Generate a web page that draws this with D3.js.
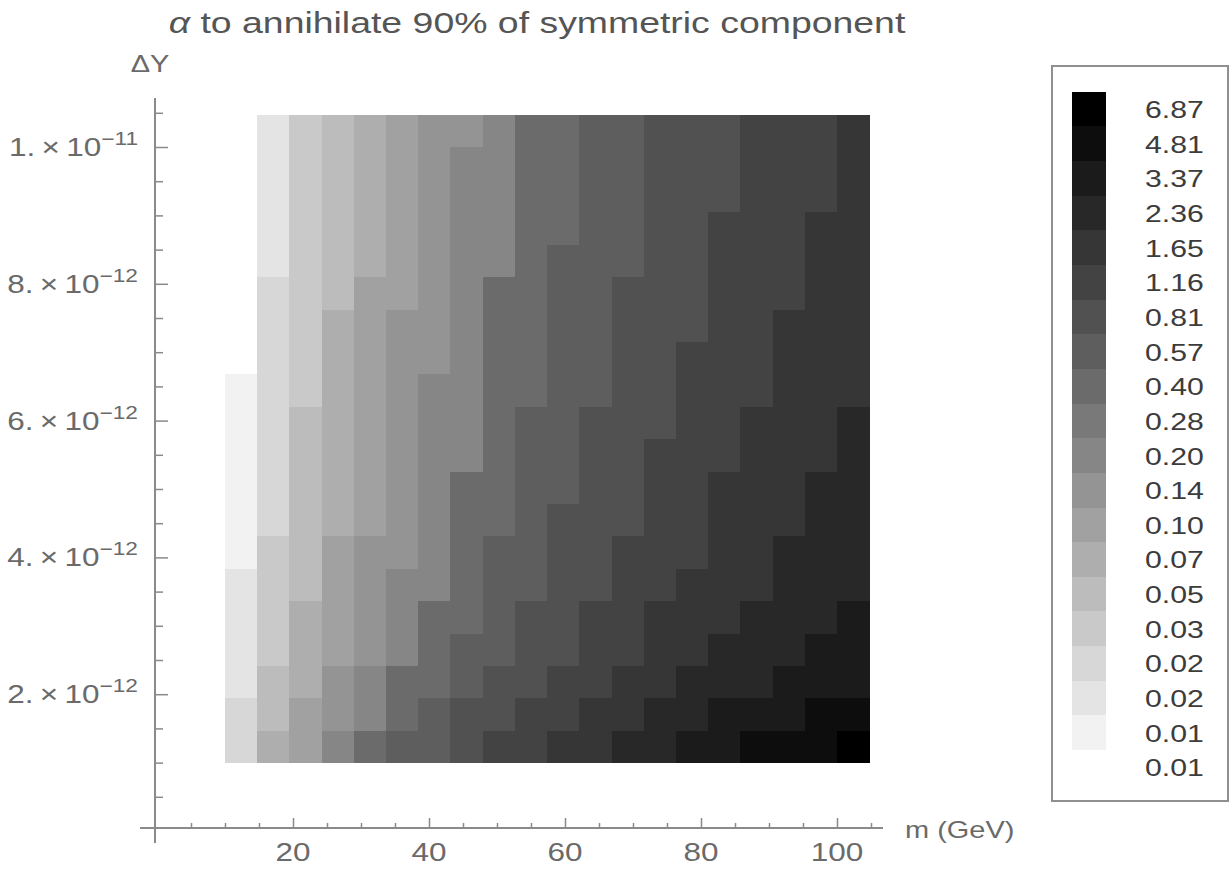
<!DOCTYPE html>
<html>
<head>
<meta charset="utf-8">
<script src="https://cdn.jsdelivr.net/npm/d3@7"></script>
<style>
    body { margin: 0; background: #ffffff; }
    text { font-family: "Liberation Sans", Arial, sans-serif; }
</style>
</head>
<body>
<div id="chart"></div>
<script>

//grid of the scan: dark matter mass and asymmetry
var massGeV = [10, 14.74, 19.47, 24.21, 28.95, 33.68, 38.42, 43.16, 47.89, 52.63,
               57.37, 62.11, 66.84, 71.58, 76.32, 81.05, 85.79, 90.53, 95.26, 100];
var deltaY = [1.00e-12, 1.47e-12, 1.95e-12, 2.42e-12, 2.89e-12, 3.37e-12, 3.84e-12, 4.32e-12, 4.79e-12, 5.26e-12,
              5.74e-12, 6.21e-12, 6.68e-12, 7.16e-12, 7.63e-12, 8.11e-12, 8.58e-12, 9.05e-12, 9.53e-12, 1.00e-11];

//legend levels (bottom to top)
var legendLevels = [0.0079, 0.0113, 0.0162, 0.0231, 0.0329, 0.0470, 0.0672, 0.0959, 0.1369, 0.1954,
                    0.2789, 0.3982, 0.5685, 0.8116, 1.159, 1.654, 2.361, 3.371, 4.812, 6.87];

//alpha, one row per deltaY (lowest first), one value per mass
var alphaRows = [
    [0.0231, 0.0672, 0.0959, 0.195, 0.398, 0.569, 0.569, 0.812, 1.16, 1.16, 1.65, 1.65, 2.36, 2.36, 3.37, 3.37, 4.81, 4.81, 4.81, 6.87],
    [0.0231, 0.047, 0.0959, 0.137, 0.195, 0.398, 0.569, 0.812, 0.812, 1.16, 1.16, 1.65, 1.65, 2.36, 2.36, 3.37, 3.37, 3.37, 4.81, 4.81],
    [0.0162, 0.047, 0.0672, 0.137, 0.195, 0.398, 0.398, 0.569, 0.812, 0.812, 1.16, 1.16, 1.65, 1.65, 2.36, 2.36, 2.36, 3.37, 3.37, 3.37],
    [0.0162, 0.0329, 0.0672, 0.0959, 0.137, 0.195, 0.398, 0.569, 0.569, 0.812, 0.812, 1.16, 1.16, 1.65, 1.65, 2.36, 2.36, 2.36, 3.37, 3.37],
    [0.0162, 0.0329, 0.0672, 0.0959, 0.137, 0.195, 0.398, 0.398, 0.569, 0.812, 0.812, 1.16, 1.16, 1.65, 1.65, 1.65, 2.36, 2.36, 2.36, 3.37],
    [0.0162, 0.0329, 0.047, 0.0959, 0.137, 0.195, 0.195, 0.398, 0.569, 0.569, 0.812, 0.812, 1.16, 1.16, 1.65, 1.65, 1.65, 2.36, 2.36, 2.36],
    [0.0113, 0.0329, 0.047, 0.0959, 0.137, 0.137, 0.195, 0.398, 0.569, 0.569, 0.812, 0.812, 1.16, 1.16, 1.16, 1.65, 1.65, 2.36, 2.36, 2.36],
    [0.0113, 0.0231, 0.047, 0.0672, 0.0959, 0.137, 0.195, 0.398, 0.398, 0.569, 0.812, 0.812, 0.812, 1.16, 1.16, 1.65, 1.65, 1.65, 2.36, 2.36],
    [0.0113, 0.0231, 0.047, 0.0672, 0.0959, 0.137, 0.195, 0.398, 0.398, 0.569, 0.569, 0.812, 0.812, 1.16, 1.16, 1.65, 1.65, 1.65, 2.36, 2.36],
    [0.0113, 0.0231, 0.047, 0.0672, 0.0959, 0.137, 0.195, 0.195, 0.398, 0.569, 0.569, 0.812, 0.812, 1.16, 1.16, 1.16, 1.65, 1.65, 1.65, 2.36],
    [0.0113, 0.0231, 0.047, 0.0672, 0.0959, 0.137, 0.195, 0.195, 0.398, 0.569, 0.569, 0.812, 0.812, 0.812, 1.16, 1.16, 1.65, 1.65, 1.65, 2.36],
    [0.0113, 0.0231, 0.0329, 0.0672, 0.0959, 0.137, 0.195, 0.195, 0.398, 0.398, 0.569, 0.569, 0.812, 0.812, 1.16, 1.16, 1.16, 1.65, 1.65, 1.65],
    [0.0079, 0.0231, 0.0329, 0.0672, 0.0959, 0.137, 0.137, 0.195, 0.398, 0.398, 0.569, 0.569, 0.812, 0.812, 1.16, 1.16, 1.16, 1.65, 1.65, 1.65],
    [0.0079, 0.0231, 0.0329, 0.0672, 0.0959, 0.137, 0.137, 0.195, 0.398, 0.398, 0.569, 0.569, 0.812, 0.812, 0.812, 1.16, 1.16, 1.65, 1.65, 1.65],
    [0.0079, 0.0231, 0.0329, 0.047, 0.0959, 0.0959, 0.137, 0.195, 0.398, 0.398, 0.569, 0.569, 0.812, 0.812, 0.812, 1.16, 1.16, 1.16, 1.65, 1.65],
    [0.0079, 0.0162, 0.0329, 0.047, 0.0672, 0.0959, 0.137, 0.195, 0.195, 0.398, 0.569, 0.569, 0.569, 0.812, 0.812, 1.16, 1.16, 1.16, 1.65, 1.65],
    [0.0079, 0.0162, 0.0329, 0.047, 0.0672, 0.0959, 0.137, 0.195, 0.195, 0.398, 0.398, 0.569, 0.569, 0.812, 0.812, 1.16, 1.16, 1.16, 1.65, 1.65],
    [0.0079, 0.0162, 0.0329, 0.047, 0.0672, 0.0959, 0.137, 0.195, 0.195, 0.398, 0.398, 0.569, 0.569, 0.812, 0.812, 0.812, 1.16, 1.16, 1.16, 1.65],
    [0.0079, 0.0162, 0.0329, 0.047, 0.0672, 0.0959, 0.137, 0.195, 0.195, 0.398, 0.398, 0.569, 0.569, 0.812, 0.812, 0.812, 1.16, 1.16, 1.16, 1.65],
    [0.0079, 0.0162, 0.0329, 0.047, 0.0672, 0.0959, 0.137, 0.137, 0.195, 0.398, 0.398, 0.569, 0.569, 0.812, 0.812, 0.812, 1.16, 1.16, 1.16, 1.65]
];

//axis ticks
var xMajorTicks = [20, 40, 60, 80, 100];
var xMinorTicks = [5, 10, 15, 25, 30, 35, 45, 50, 55, 65, 70, 75, 85, 90, 95, 105];
var yMajorTicks = [2e-12, 4e-12, 6e-12, 8e-12, 1e-11];
var yTickMantissa = ["2.", "4.", "6.", "8.", "1."];
var yTickExponent = ["\u221212", "\u221212", "\u221212", "\u221212", "\u221211"];
var yMinorTicks = [0.5e-12, 1e-12, 1.5e-12, 2.5e-12, 3e-12, 3.5e-12, 4.5e-12, 5e-12, 5.5e-12,
                   6.5e-12, 7e-12, 7.5e-12, 8.5e-12, 9e-12, 9.5e-12, 10.5e-12];

var width = 1232, height = 874;
var textStretch = 1.26;   //glyphs in the picture are wider than they are tall

var svg = d3.select("#chart").append("svg")
    .attr("width", width)
    .attr("height", height);

//define the scales
var x = d3.scaleLinear().domain([0, 100]).range([157, 837]);
var y = d3.scaleLinear().domain([0, 1e-11]).range([831, 147]);

var grays = legendLevels.map(function(d, k){
    return d3.interpolateRgb("#ffffff", "#000000")(k / (legendLevels.length - 1));
});
var thresholds = d3.pairs(legendLevels).map(function(p){ return Math.sqrt(p[0] * p[1]); });
var color = d3.scaleThreshold().domain(thresholds).range(grays);

//helper for horizontally stretched text
function stretchedText(parent, px, py, anchor, size, fill, sx){
    return parent.append("g")
        .attr("transform", "translate(" + px + "," + py + ") scale(" + (sx || textStretch) + ",1)")
        .append("text")
        .attr("text-anchor", anchor)
        .attr("font-size", size)
        .attr("fill", fill);
}

//cells
var cells = [];
alphaRows.forEach(function(row, j){
    row.forEach(function(v, i){
        var m1 = i < massGeV.length - 1 ? massGeV[i + 1] : massGeV[i] + (massGeV[i] - massGeV[i - 1]);
        var d1 = j < deltaY.length - 1 ? deltaY[j + 1] : deltaY[j] + (deltaY[j] - deltaY[j - 1]);
        cells.push({m0: massGeV[i], m1: m1, d0: deltaY[j], d1: d1, v: v});
    });
});

svg.append("g")
    .attr("class", "cells")
    .selectAll("rect")
    .data(cells)
    .enter().append("rect")
    .attr("x", function(d){ return x(d.m0); })
    .attr("y", function(d){ return y(d.d1); })
    .attr("width", function(d){ return x(d.m1) - x(d.m0) + 0.4; })
    .attr("height", function(d){ return y(d.d0) - y(d.d1) + 0.4; })
    .attr("fill", function(d){ return color(d.v); })
    .attr("shape-rendering", "crispEdges");

//axes
var axisColor = "#8a8a8a";
var xAxisY = 828, yAxisX = 155;

var xAxisG = svg.append("g").attr("transform", "translate(0," + xAxisY + ")");
xAxisG.append("g").call(d3.axisBottom(x).tickValues(xMajorTicks).tickSize(-10).tickFormat(""));
xAxisG.append("g").call(d3.axisBottom(x).tickValues(xMinorTicks).tickSize(-5).tickFormat(""));
xAxisG.selectAll(".domain").remove();
xAxisG.selectAll("line").attr("stroke", axisColor).attr("stroke-width", 1.5);
xAxisG.append("line")
    .attr("x1", 140).attr("x2", 883)
    .attr("stroke", axisColor).attr("stroke-width", 2);

var yAxisG = svg.append("g").attr("transform", "translate(" + yAxisX + ",0)");
yAxisG.append("g").call(d3.axisLeft(y).tickValues(yMajorTicks).tickSize(-13).tickFormat(""));
yAxisG.append("g").call(d3.axisLeft(y).tickValues(yMinorTicks).tickSize(-8).tickFormat(""));
yAxisG.selectAll(".domain").remove();
yAxisG.selectAll("line").attr("stroke", axisColor).attr("stroke-width", 1.5);
yAxisG.append("line")
    .attr("y1", 98).attr("y2", 843)
    .attr("stroke", axisColor).attr("stroke-width", 2);

//tick labels
var labelColor = "#6a6a6a";
xMajorTicks.forEach(function(t){
    stretchedText(svg, x(t), 861, "middle", 25, labelColor).text(t);
});

yMajorTicks.forEach(function(t, k){
    var label = stretchedText(svg, 138, y(t) + 9, "end", 25, labelColor);
    label.append("tspan").text(yTickMantissa[k] + "\u2009\u00d7\u200910");
    label.append("tspan").attr("font-size", 18).attr("dy", -11).text(yTickExponent[k]);
});

//axis titles
stretchedText(svg, 150, 72, "middle", 23, labelColor).text("\u0394Y");
stretchedText(svg, 905, 838, "start", 23, labelColor).text("m (GeV)");

//title
var title = stretchedText(svg, 537, 33, "middle", 29, "#555555", 1.29);
title.append("tspan").attr("font-style", "italic").text("\u03b1");
title.append("tspan").text(" to annihilate 90% of symmetric component");

//legend
var legend = svg.append("g").attr("class", "legend");
legend.append("rect")
    .attr("x", 1052).attr("y", 66)
    .attr("width", 176).attr("height", 735)
    .attr("fill", "#ffffff")
    .attr("stroke", "#8f8f8f")
    .attr("stroke-width", 2);

var legendIdx = d3.range(legendLevels.length).reverse();
var ly = d3.scaleBand().domain(legendIdx).range([91.7, 91.7 + 34.65 * legendLevels.length]);

legend.selectAll("rect.swatch")
    .data(legendIdx)
    .enter().append("rect")
    .attr("class", "swatch")
    .attr("x", 1072)
    .attr("y", function(k){ return ly(k); })
    .attr("width", 34)
    .attr("height", ly.bandwidth() + 0.4)
    .attr("fill", function(k){ return grays[k]; })
    .attr("shape-rendering", "crispEdges");

var fmt = d3.format(".2f");
legendIdx.forEach(function(k){
    stretchedText(legend, 1145, ly(k) + ly.bandwidth() / 2 + 9, "start", 24, "#3c3c3c")
        .text(fmt(legendLevels[k]));
});

</script>
</body>
</html>
